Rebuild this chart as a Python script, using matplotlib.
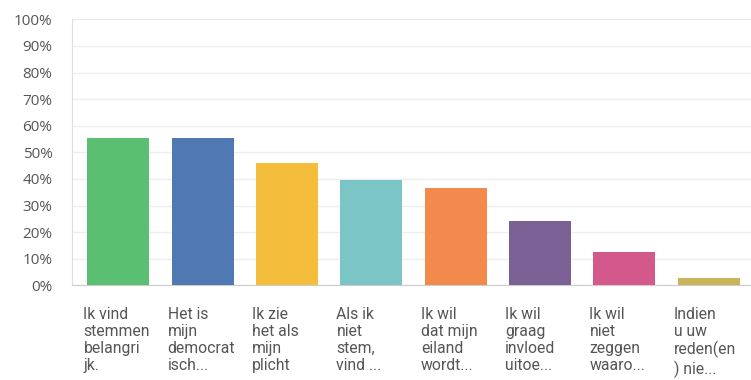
import matplotlib
matplotlib.use('Agg')
import matplotlib.pyplot as plt
from matplotlib.ticker import FuncFormatter
import matplotlib.transforms as mtransforms

# Survey answers (percent of respondents)
labels = [
    "Ik vind\nstemmen\nbelangri\njk.",
    "Het is\nmijn\ndemocrat\nisch...",
    "Ik zie\nhet als\nmijn\nplicht",
    "Als ik\nniet\nstem,\nvind ...",
    "Ik wil\ndat mijn\neiland\nwordt...",
    "Ik wil\ngraag\ninvloed\nuitoe...",
    "Ik wil\nniet\nzeggen\nwaaro...",
    "Indien\nu uw\nreden(en\n) nie...",
]
values = [55.4, 55.4, 46.1, 39.7, 36.7, 24.3, 12.4, 2.6]
colors = ["#5bbf72", "#5078b3", "#f4bd3c", "#7cc5c7",
          "#f38a4d", "#7b6096", "#d3588c", "#c9b45a"]
yticks = list(range(0, 101, 10))

plt.rcParams['font.family'] = ['Roboto', 'DejaVu Sans']

fig = plt.figure(figsize=(7.51, 3.80), dpi=100)
ax = fig.add_axes([72 / 751, 1 - 285.3 / 380, 679 / 751, 266 / 380])

x = list(range(len(values)))
ax.bar(x, values, width=0.735, color=colors, zorder=3)

ax.set_xlim(-0.55, 7.5)
ax.set_ylim(0, 100)
ax.set_yticks(yticks)
ax.yaxis.set_major_formatter(FuncFormatter(lambda v, p: f"{int(v)}%"))
ax.set_xticks([])
ax.tick_params(axis='y', length=0, pad=14, labelsize=11, labelcolor="#555555")
for t in ax.get_yticklabels():
    t.set_fontfamily(['Open Sans', 'DejaVu Sans'])
ax.grid(axis='y', color="#eeeeee", linewidth=1, zorder=0)

for s in ["top", "right"]:
    ax.spines[s].set_visible(False)
ax.spines["left"].set_color("#dddddd")
ax.spines["bottom"].set_color("#cccccc")

# category labels, left aligned under each bar
trans = mtransforms.blended_transform_factory(ax.transData, ax.transAxes)
for i, lab in enumerate(labels):
    ax.text(i - 0.415, -0.08, lab, transform=trans, ha="left", va="top",
            fontsize=11.3, color="#555555", linespacing=1.18)

fig.savefig("out.png", dpi=100)
